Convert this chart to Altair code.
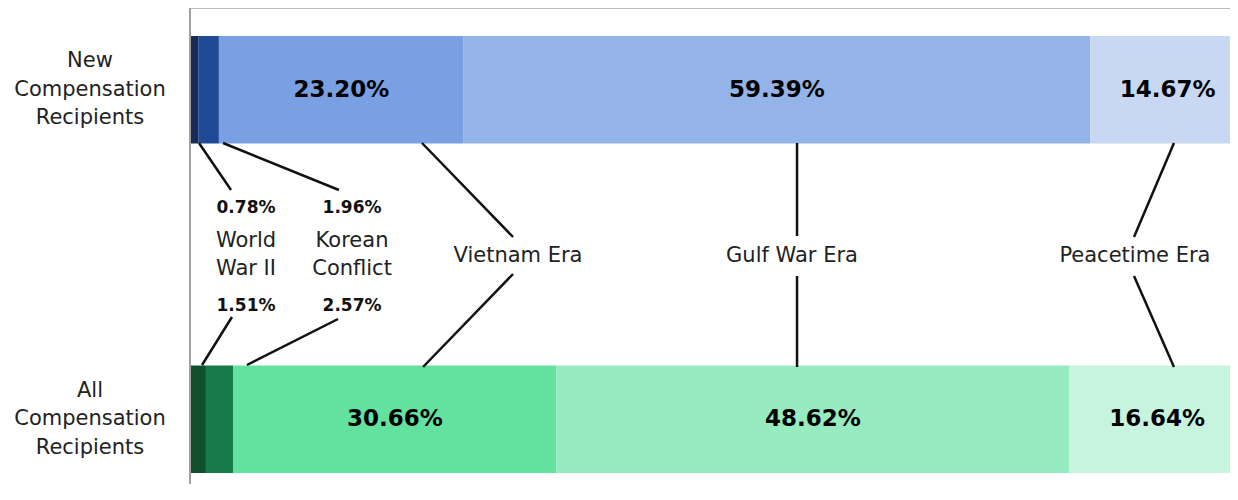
import altair as alt
import pandas as pd

# ---------------- data ----------------
groups = ["New Compensation Recipients", "All Compensation Recipients"]
group_labels = ["New\nCompensation\nRecipients", "All\nCompensation\nRecipients"]
eras = ["World War II", "Korean Conflict", "Vietnam Era", "Gulf War Era", "Peacetime Era"]
era_labels = ["World\nWar II", "Korean\nConflict", "Vietnam Era", "Gulf War Era", "Peacetime Era"]
new_values = [0.78, 1.96, 23.20, 59.39, 14.67]
all_values = [1.51, 2.57, 30.66, 48.62, 16.64]
new_colors = ["#172b55", "#1f4a97", "#79a0e2", "#94b3e8", "#c8d8f3"]
all_colors = ["#10502f", "#187a4a", "#63e19f", "#96ebc1", "#c7f4de"]

# ---------------- layout ----------------
W, H = 1040, 472
XMAX = 98.58
FONT = "DejaVu Sans"

rows = []
for g, vals in zip(groups, [new_values, all_values]):
    cum = 0.0
    for i, (e, v) in enumerate(zip(eras, vals)):
        rows.append(dict(group=g, era=e, idx=i, value=v, key=g + "|" + e,
                         start=cum, end=cum + v, mid=cum + v / 2,
                         label=f"{v:.2f}%"))
        cum += v
bars = pd.DataFrame(rows)
keys = list(bars["key"])
colors = new_colors + all_colors

xscale = alt.Scale(domain=[0, XMAX], range=[0, W], nice=False, zero=False)
yband = alt.Scale(type="band", domain=groups, range=[28, 465], paddingInner=0.6738, paddingOuter=0)

bar_layer = alt.Chart(bars).mark_bar(clip=True).encode(
    x=alt.X("start:Q", scale=xscale, axis=None),
    x2="end:Q",
    y=alt.Y("group:N", scale=yband, axis=None),
    color=alt.Color("key:N", scale=alt.Scale(domain=keys, range=colors), legend=None),
)

bar_text = alt.Chart(bars[bars["value"] > 5]).mark_text(
    font=FONT, fontSize=23, fontWeight="bold", color="#000", baseline="middle", align="center"
).encode(
    x=alt.X("mid:Q", scale=xscale, axis=None),
    y=alt.Y("group:N", scale=yband, axis=None, bandPosition=0.5),
    text="label:N",
)

cat_df = pd.DataFrame(dict(group=groups, text=group_labels))
cat_text = alt.Chart(cat_df).mark_text(
    font=FONT, fontSize=21, color="#222", baseline="middle", align="center",
    lineBreak="\n", lineHeight=28.5, dy=-28.5
).encode(
    x=alt.value(-100),
    y=alt.Y("group:N", scale=yband, axis=None, bandPosition=0.5),
    text="text:N",
)

# annotation leader lines (x in percent units, y in pixels)
lines = pd.DataFrame(dict(
    x1=[0.85, 3.13, 21.99, 30.62, 3.98, 14.03, 57.54, 57.54, 93.27, 89.48],
    x2=[3.89, 14.12, 30.62, 22.09, 1.14, 5.40, 57.54, 57.54, 89.48, 93.27],
    y1=[135, 135, 135, 266, 309, 311, 135, 268, 135, 268],
    y2=[182, 182, 229, 359, 357, 357, 228, 359, 229, 359],
))
line_layer = alt.Chart(lines).mark_rule(color="#111", strokeWidth=2.5).encode(
    x=alt.X("x1:Q", scale=xscale, axis=None),
    x2="x2:Q",
    y=alt.Y("y1:Q", scale=None),
    y2="y2:Q",
)

pct_df = pd.DataFrame(dict(
    tx=[5.31, 15.36, 5.31, 15.36],
    ty=[200, 200, 298, 298],
    text=[f"{new_values[0]:.2f}%", f"{new_values[1]:.2f}%",
          f"{all_values[0]:.2f}%", f"{all_values[1]:.2f}%"],
))
pct_layer = alt.Chart(pct_df).mark_text(
    font=FONT, fontSize=17, fontWeight="bold", color="#111", baseline="middle", align="center"
).encode(
    x=alt.X("tx:Q", scale=xscale, axis=None),
    y=alt.Y("ty:Q", scale=None),
    text="text:N",
)

era_df = pd.DataFrame(dict(
    tx=[5.31, 15.36, 31.09, 57.06, 89.57],
    ty=[233, 233, 248, 248, 248],
    text=era_labels,
))
era_layer = alt.Chart(era_df).mark_text(
    font=FONT, fontSize=21, color="#222", baseline="middle", align="center",
    lineBreak="\n", lineHeight=28
).encode(
    x=alt.X("tx:Q", scale=xscale, axis=None),
    y=alt.Y("ty:Q", scale=None),
    text="text:N",
)

frame_df = pd.DataFrame(dict(a=[0]))
left_line = alt.Chart(frame_df).mark_rule(color="#a0a0a0", strokeWidth=2).encode(
    x=alt.value(0), y=alt.value(0), y2=alt.value(H + 4)
)
top_line = alt.Chart(frame_df).mark_rule(color="#a6a6a6", strokeWidth=1.5).encode(
    x=alt.value(0), x2=alt.value(W), y=alt.value(0)
)

chart = alt.layer(
    bar_layer, bar_text, cat_text, line_layer, pct_layer, era_layer, left_line, top_line
).resolve_scale(y="independent").properties(
    width=W, height=H,
    autosize=alt.AutoSizeParams(type="none"),
    padding={"left": 182, "top": 0, "right": 0, "bottom": 4},
    background="white",
).configure_view(stroke=None)

chart.save("out.html", embed_options={"renderer": "svg", "actions": False})
